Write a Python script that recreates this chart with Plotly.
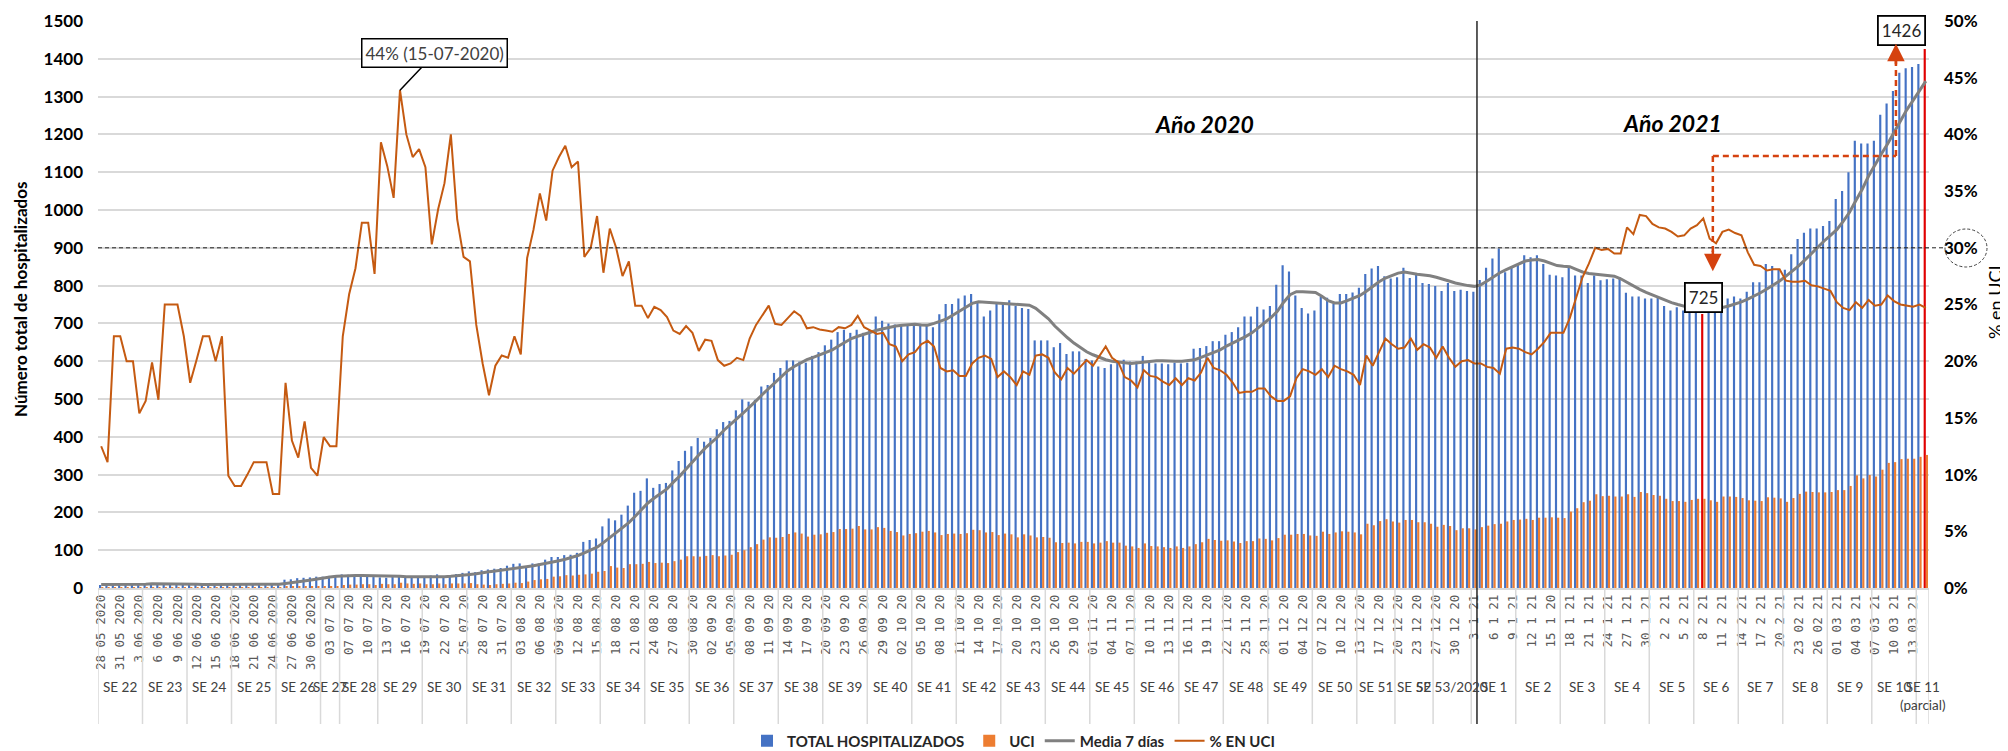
import pandas as pd
import plotly.graph_objects as go

# ---------------- categories ----------------
start_date = "2020-05-28"
end_date = "2021-03-15"
missing_dates = ["2020-07-05", "2020-12-15", "2020-12-25", "2021-01-01"]
dates = [d.strftime("%Y-%m-%d") for d in pd.date_range(start_date, end_date)
         if d.strftime("%Y-%m-%d") not in missing_dates]

tick_labels = [
    "28 05 2020", "31 05 2020", "3 06 2020", "6 06 2020", "9 06 2020", "12 06 2020",
    "15 06 2020", "18 06 2020", "21 06 2020", "24 06 2020", "27 06 2020", "30 06 2020",
    "03 07 20", "07 07 20", "10 07 20", "13 07 20", "16 07 20", "19 07 20", "22 07 20",
    "25 07 20", "28 07 20", "31 07 20", "03 08 20", "06 08 20", "09 08 20", "12 08 20",
    "15 08 20", "18 08 20", "21 08 20", "24 08 20", "27 08 20", "30 08 20", "02 09 20",
    "05 09 20", "08 09 20", "11 09 20", "14 09 20", "17 09 20", "20 09 20", "23 09 20",
    "26 09 20", "29 09 20", "02 10 20", "05 10 20", "08 10 20", "11 10 20", "14 10 20",
    "17 10 20", "20 10 20", "23 10 20", "26 10 20", "29 10 20", "01 11 20", "04 11 20",
    "07 11 20", "10 11 20", "13 11 20", "16 11 20", "19 11 20", "22 11 20", "25 11 20",
    "28 11 20", "01 12 20", "04 12 20", "07 12 20", "10 12 20", "13 12 20", "17 12 20",
    "20 12 20", "23 12 20", "27 12 20", "30 12 20", "3 1 21", "6 1 21", "9 1 21",
    "12 1 21", "15 1 20", "18 1 21", "21 1 21", "24 1 21", "27 1 21", "30 1 21",
    "2 2 21", "5 2 21", "8 2 21", "11 2 21", "14 2 21", "17 2 21", "20 2 21",
    "23 02 21", "26 02 21", "01 03 21", "04 03 21", "07 03 21", "10 03 21", "13 03 21",
]

week_labels = (["SE 22", "SE 23", "SE 24", "SE 25", "SE 26", "SE 27", "SE 28"]
               + ["SE %d" % n for n in range(29, 53)] + ["SE 53/2020"]
               + ["SE %d" % n for n in range(1, 11)] + ["SE 11<br>(parcial)"])
week_sizes = ([7, 7, 7, 7, 7, 3, 6] + [7] * 22 + [6, 6, 6] + [7] * 10 + [2])

# ---------------- series ----------------
total = [
    8, 9, 9, 9, 10, 10, 13, 12, 10, 12,
    8, 8, 8, 9, 11, 10, 9, 9, 10, 9,
    10, 11, 11, 10, 9, 9, 9, 12, 12, 22,
    23, 26, 27, 28, 30, 30, 32, 32, 36, 35,
    32, 31, 31, 29, 28, 27, 29, 32, 30, 29,
    31, 27, 33, 36, 28, 30, 37, 40, 44, 42,
    47, 49, 51, 53, 59, 64, 65, 58, 65, 65,
    75, 82, 82, 87, 88, 93, 122, 127, 131, 163,
    184, 179, 194, 218, 252, 257, 290, 265, 275, 278,
    311, 336, 363, 375, 397, 387, 397, 420, 439, 442,
    470, 499, 493, 498, 533, 537, 569, 582, 602, 602,
    599, 596, 614, 624, 642, 657, 677, 683, 675, 683,
    675, 683, 718, 707, 700, 697, 695, 693, 697, 695,
    693, 690, 724, 751, 751, 766, 774, 778, 756, 718,
    734, 751, 756, 761, 746, 741, 738, 655, 655, 655,
    637, 648, 619, 626, 626, 606, 602, 586, 582, 592,
    602, 604, 599, 599, 614, 596, 594, 594, 592, 596,
    594, 596, 633, 635, 640, 653, 653, 670, 677, 690,
    718, 718, 744, 737, 746, 802, 854, 837, 774, 741,
    726, 734, 770, 768, 751, 778, 778, 782, 794, 831,
    845, 852, 825, 819, 822, 847, 820, 829, 807, 804,
    799, 786, 807, 786, 789, 786, 784, 815, 847, 872,
    898, 835, 847, 857, 880, 875, 880, 857, 829, 827,
    822, 847, 827, 827, 807, 827, 814, 817, 819, 822,
    781, 771, 771, 766, 766, 768, 746, 734, 743, 734,
    734, 736, 725, 754, 751, 771, 766, 771, 766, 784,
    809, 809, 857, 852, 842, 842, 883, 923, 940, 951,
    951, 958, 971, 1029, 1050, 1100, 1183, 1176, 1176, 1183,
    1252, 1282, 1315, 1363, 1375, 1378, 1386, 1426,
]

uci = [
    1, 1, 2, 2, 2, 2, 2, 2, 2, 2,
    2, 2, 2, 2, 2, 2, 2, 2, 2, 2,
    1, 1, 1, 1, 1, 1, 1, 1, 1, 4,
    3, 3, 4, 3, 3, 4, 4, 4, 8, 9,
    9, 10, 10, 8, 11, 10, 10, 14, 12, 11,
    12, 10, 10, 12, 10, 12, 12, 12, 13, 10,
    9, 8, 10, 11, 12, 14, 13, 17, 21, 23,
    24, 30, 31, 34, 33, 35, 36, 38, 43, 45,
    58, 54, 53, 63, 63, 64, 69, 66, 67, 66,
    71, 75, 84, 84, 83, 85, 87, 84, 86, 88,
    95, 100, 108, 116, 128, 134, 133, 135, 143, 147,
    144, 136, 141, 142, 146, 148, 156, 156, 157, 164,
    155, 155, 161, 159, 151, 148, 139, 143, 145, 149,
    151, 147, 140, 143, 144, 143, 145, 154, 153, 147,
    148, 140, 144, 142, 134, 142, 139, 134, 135, 133,
    121, 119, 120, 118, 122, 122, 118, 120, 124, 120,
    120, 112, 110, 106, 118, 111, 110, 108, 106, 110,
    106, 110, 116, 121, 130, 127, 125, 126, 123, 119,
    124, 124, 131, 130, 126, 132, 141, 141, 143, 143,
    139, 138, 149, 143, 147, 150, 149, 147, 142, 170,
    166, 177, 182, 176, 173, 180, 180, 174, 174, 170,
    162, 167, 164, 153, 158, 158, 155, 161, 165, 169,
    170, 176, 180, 181, 183, 180, 186, 186, 187, 186,
    185, 202, 211, 227, 231, 248, 243, 244, 242, 242,
    248, 241, 254, 251, 246, 244, 236, 230, 230, 228,
    233, 236, 236, 232, 228, 242, 242, 241, 238, 232,
    231, 230, 240, 239, 237, 228, 238, 249, 255, 254,
    253, 253, 254, 259, 259, 270, 298, 290, 299, 295,
    313, 331, 333, 341, 342, 342, 347, 352,
]

media_7 = [
    9, 9, 9, 9, 9, 9, 9, 10, 11, 11,
    11, 11, 11, 11, 10, 10, 9, 9, 9, 9,
    9, 9, 9, 9, 9, 10, 10, 10, 10, 12,
    14, 16, 18, 21, 24, 27, 29, 31, 32, 33,
    33, 33, 33, 33, 32, 31, 31, 31, 30, 30,
    29, 29, 30, 30, 30, 31, 32, 34, 36, 38,
    41, 43, 45, 47, 49, 52, 55, 57, 59, 62,
    65, 69, 72, 76, 80, 86, 93, 101, 108, 120,
    133, 145, 160, 173, 190, 208, 225, 238, 250, 262,
    280, 296, 315, 335, 352, 370, 385, 400, 418, 432,
    448, 463, 478, 495, 512, 528, 545, 560, 575, 586,
    596, 604, 610, 616, 622, 630, 640, 650, 660, 666,
    672, 678, 682, 686, 690, 693, 695, 697, 698, 696,
    695, 700, 705, 712, 722, 732, 743, 753, 757, 756,
    754, 754, 753, 751, 749, 749, 748, 740, 727, 712,
    693, 677, 662, 648, 637, 625, 617, 610, 604, 600,
    597, 596, 594, 596, 598, 600, 601, 601, 600, 600,
    600, 601, 604, 610, 616, 622, 630, 640, 648, 656,
    665, 675, 688, 700, 715, 732, 756, 776, 784, 784,
    783, 782, 772, 760, 754, 754, 760, 767, 774, 785,
    798, 810, 820, 827, 833, 836, 832, 830, 828, 826,
    822, 818, 812, 807, 803, 800, 798, 802, 812, 823,
    834, 842, 850, 858, 865, 868, 869, 865, 858, 853,
    851, 850, 843, 836, 832, 830, 829, 827, 825, 818,
    808, 798, 790, 782, 775, 768, 761, 755, 750, 745,
    741, 738, 736, 737, 739, 742, 746, 751, 757, 764,
    772, 781, 791, 801, 812, 825, 838, 852, 868, 885,
    903, 918, 933, 948, 970, 994, 1025, 1055, 1090, 1120,
    1148, 1175, 1206, 1235, 1265, 1290, 1315, 1341,
]

pct_uci = [
    12.5, 11.1, 22.2, 22.2, 20, 20, 15.4, 16.5, 19.9, 16.6,
    25, 25, 25, 22.2, 18.1, 20.1, 22.2, 22.2, 20, 22.2,
    9.9, 9, 9, 10, 11.1, 11.1, 11.1, 8.3, 8.3, 18.1,
    13, 11.5, 14.7, 10.6, 9.9, 13.3, 12.5, 12.5, 22.2, 25.9,
    28.2, 32.2, 32.2, 27.7, 39.3, 37.2, 34.4, 43.9, 40, 38,
    38.7, 37.1, 30.3, 33.4, 35.7, 40, 32.5, 29.2, 28.8, 23.2,
    19.8, 17, 19.6, 20.5, 20.3, 22.2, 20.6, 29.1, 31.6, 34.8,
    32.4, 36.8, 38, 39, 37.1, 37.6, 29.2, 30, 32.8, 27.8,
    31.7, 30, 27.5, 28.8, 24.9, 24.9, 23.8, 24.8, 24.5, 23.9,
    22.7, 22.4, 23.1, 22.5, 20.9, 21.9, 21.8, 20.1, 19.6, 19.8,
    20.3, 20.1, 22, 23.2, 24, 24.9, 23.3, 23.2, 23.8, 24.4,
    24, 22.9, 23, 22.8, 22.7, 22.6, 23, 22.9, 23.2, 24,
    23, 22.7, 22.4, 22.5, 21.5, 21.3, 20, 20.6, 20.8, 21.5,
    21.8, 21.3, 19.4, 19.1, 19.2, 18.7, 18.7, 19.8, 20.3, 20.5,
    20.2, 18.6, 19.1, 18.6, 17.9, 19.1, 18.8, 20.5, 20.6, 20.3,
    19, 18.4, 19.4, 18.9, 19.5, 20.1, 19.6, 20.5, 21.3, 20.3,
    19.9, 18.6, 18.3, 17.7, 19.2, 18.7, 18.6, 18.2, 17.9, 18.5,
    17.9, 18.5, 18.3, 19, 20.3, 19.4, 19.2, 18.8, 18.1, 17.2,
    17.3, 17.3, 17.6, 17.6, 16.9, 16.5, 16.5, 16.9, 18.5, 19.3,
    19.1, 18.8, 19.3, 18.6, 19.6, 19.3, 19.1, 18.8, 17.9, 20.5,
    19.6, 20.8, 22, 21.5, 21.1, 21.2, 22, 21, 21.5, 21.2,
    20.3, 21.3, 20.3, 19.5, 20, 20.1, 19.8, 19.8, 19.5, 19.4,
    18.9, 21.1, 21.2, 21.1, 20.8, 20.6, 21.1, 21.7, 22.5, 22.5,
    22.5, 23.8, 25.5, 27.4, 28.6, 30, 29.8, 29.9, 29.5, 29.5,
    31.8, 31.2, 32.9, 32.8, 32.1, 31.8, 31.7, 31.4, 31, 31.1,
    31.7, 32, 32.6, 30.8, 30.4, 31.4, 31.6, 31.3, 31.1, 29.6,
    28.5, 28.4, 28, 28.1, 28.1, 27.1, 27, 27, 27.1, 26.7,
    26.6, 26.4, 26.2, 25.2, 24.7, 24.5, 25.2, 24.7, 25.4, 24.9,
    25, 25.8, 25.3, 25, 24.9, 24.8, 25, 24.7,
]

highlight_idx = [252, 287]          # bars drawn in red (minimum 725, latest 1426)
peak_idx = 47                        # 15-07-2020, 44 %

# ---------------- styles ----------------
BLUE = "#4472C4"
ORANGE = "#ED7D31"
GRAY = "#808080"
PCT = "#C55A11"
RED = "#E00000"
ARROW = "#D5420F"
GRID = "#D9D9D9"
FONT = "Lato, 'Open Sans', sans-serif"

bar_colors = [RED if i in highlight_idx else BLUE for i in range(len(dates))]

fig = go.Figure()
fig.add_trace(go.Bar(x=dates, y=total, name="TOTAL HOSPITALIZADOS",
                     marker=dict(color=bar_colors, line=dict(width=0))))
fig.add_trace(go.Bar(x=dates, y=uci, name="UCI",
                     marker=dict(color=ORANGE, line=dict(width=0))))
fig.add_trace(go.Scatter(x=dates, y=media_7, name="Media 7 días", mode="lines",
                         line=dict(color=GRAY, width=3)))
fig.add_trace(go.Scatter(x=dates, y=pct_uci, name="% EN UCI", mode="lines",
                         line=dict(color=PCT, width=2), yaxis="y2"))

# geometry (the page body adds an 8 px offset around the figure)
OFF = 8
W, H = 2000, 743
L, R, T, B = 90, 79, 13, 163
pw = W - L - R
ph = H - T - B
plot_left = OFF + L
plot_bottom = OFF + T + ph


def py(px):  # screen row -> paper y
    return (plot_bottom - px) / ph


def pxp(px):  # screen column -> paper x
    return (px - plot_left) / pw


shapes = []
# week separators
bound = -0.5
bounds = [bound]
for s in week_sizes:
    bound += s
    bounds.append(bound)
for b in bounds:
    shapes.append(dict(type="line", xref="x", yref="paper", x0=b, x1=b,
                       y0=0, y1=py(724), line=dict(color=GRID, width=1.5)))
# year divider
shapes.append(dict(type="line", xref="x", yref="paper", x0=216.4, x1=216.4,
                   y0=py(724), y1=1, line=dict(color="#262626", width=1.5)))
# 30 % reference dashed line
shapes.append(dict(type="line", xref="paper", yref="y", x0=0, x1=pxp(1945),
                   y0=900, y1=900, line=dict(color="#222222", width=1, dash="4px,3px")))
# dashed circle around 30 %
shapes.append(dict(type="circle", xref="paper", yref="paper",
                   x0=pxp(1945), x1=pxp(1987), y0=py(267), y1=py(229),
                   line=dict(color="#404040", width=1, dash="3px,2px")))
# red dashed connector
shapes.append(dict(type="line", xref="x", yref="y", x0=253.5, x1=253.5, y0=1143, y1=870,
                   line=dict(color=ARROW, width=2.5, dash="6px,4px")))
shapes.append(dict(type="line", xref="x", yref="y", x0=253.5, x1=282.3, y0=1143, y1=1143,
                   line=dict(color=ARROW, width=2.5, dash="6px,4px")))
shapes.append(dict(type="line", xref="x", yref="y", x0=282.3, x1=282.3, y0=1143, y1=1410,
                   line=dict(color=ARROW, width=2.5, dash="6px,4px")))

annotations = []
# week labels
acc = 0
for lab, s in zip(week_labels, week_sizes):
    c = acc + (s - 1) / 2
    acc += s
    annotations.append(dict(x=c, y=py(677), xref="x", yref="paper", text=lab,
                            showarrow=False, yanchor="top", xanchor="center",
                            font=dict(family=FONT, size=13.5, color="#404040")))
# axis titles
annotations.append(dict(x=pxp(20), y=py(300), xref="paper", yref="paper",
                        xanchor="center", yanchor="middle",
                        text="<b>Número total de hospitalizados</b>", textangle=-90,
                        showarrow=False, font=dict(family=FONT, size=17, color="#000000")))
annotations.append(dict(x=pxp(1995), y=py(302), xref="paper", yref="paper",
                        xanchor="center", yanchor="middle",
                        text="% en UCI", textangle=-90, showarrow=False,
                        font=dict(family=FONT, size=18, color="#000000")))
# year labels
annotations.append(dict(x=173.5, y=1227, xref="x", yref="y", text="<b><i>Año 2020</i></b>",
                        showarrow=False, font=dict(family=FONT, size=23, color="#000000")))
annotations.append(dict(x=247.2, y=1230, xref="x", yref="y", text="<b><i>Año 2021</i></b>",
                        showarrow=False, font=dict(family=FONT, size=23, color="#000000")))
# peak callout
annotations.append(dict(x=peak_idx, y=pct_uci[peak_idx], xref="x", yref="y2",
                        text="44% (15-07-2020)", showarrow=True, arrowhead=0,
                        arrowwidth=1.5, arrowcolor="#000000", ax=35, ay=-37,
                        bordercolor="#000000", borderwidth=1.5, borderpad=3,
                        bgcolor="#FFFFFF", font=dict(family=FONT, size=17, color="#404040")))
# value boxes
annotations.append(dict(x=highlight_idx[0], y=total[highlight_idx[0]], xref="x", yref="y",
                        text=str(total[highlight_idx[0]]), showarrow=False, yshift=16,
                        bordercolor="#000000", borderwidth=1.8, borderpad=3, bgcolor="#FFFFFF",
                        font=dict(family=FONT, size=17, color="#262626")))
annotations.append(dict(x=highlight_idx[1], y=total[highlight_idx[1]], xref="x", yref="y",
                        text=str(total[highlight_idx[1]]), showarrow=False, yshift=18, xshift=-24,
                        bordercolor="#000000", borderwidth=1.8, borderpad=3, bgcolor="#FFFFFF",
                        font=dict(family=FONT, size=17, color="#262626")))
# arrow heads of the red connector
annotations.append(dict(x=253.5, y=838, xref="x", yref="y", text="", showarrow=True,
                        arrowhead=2, arrowsize=1.4, arrowwidth=2.5, arrowcolor=ARROW,
                        ax=0, ay=-22, standoff=0))
annotations.append(dict(x=282.3, y=1440, xref="x", yref="y", text="", showarrow=True,
                        arrowhead=2, arrowsize=1.4, arrowwidth=2.5, arrowcolor=ARROW,
                        ax=0, ay=22, standoff=0))

fig.update_layout(
    width=W, height=H,
    margin=dict(l=L, r=R, t=T, b=B, autoexpand=False),
    paper_bgcolor="#FFFFFF", plot_bgcolor="#FFFFFF",
    barmode="group", bargap=0.32, bargroupgap=0.0,
    font=dict(family=FONT, color="#404040"),
    showlegend=True,
    legend=dict(orientation="h", x=0.5, xanchor="center", y=py(741), yanchor="middle",
                font=dict(family=FONT, size=15, color="#262626", weight="bold"),
                itemwidth=30, traceorder="normal"),
    xaxis=dict(type="category", categoryorder="array", categoryarray=dates,
               range=[-0.5, len(dates) - 0.5], automargin=False,
               tickmode="array", tickvals=dates[::3], ticktext=tick_labels,
               tickangle=-90, ticks="", showgrid=False, zeroline=False,
               showline=True, linecolor=GRID, linewidth=1.5,
               tickfont=dict(family="'DejaVu Sans Mono', monospace", size=12.5, color="#595959")),
    yaxis=dict(range=[0, 1500], dtick=100, showgrid=True, gridcolor=GRID, gridwidth=1.5,
               zeroline=False, ticks="", ticklabelstandoff=14, automargin=False,
               tickfont=dict(family=FONT, size=17, color="#000000", weight="bold")),
    yaxis2=dict(range=[0, 50], dtick=5, ticksuffix="%", overlaying="y", side="right",
                showgrid=False, zeroline=False, ticks="", ticklabelstandoff=14,
                automargin=False,
                tickfont=dict(family=FONT, size=17, color="#000000", weight="bold")),
    shapes=shapes,
    annotations=annotations,
)

fig.write_html("out.html")
